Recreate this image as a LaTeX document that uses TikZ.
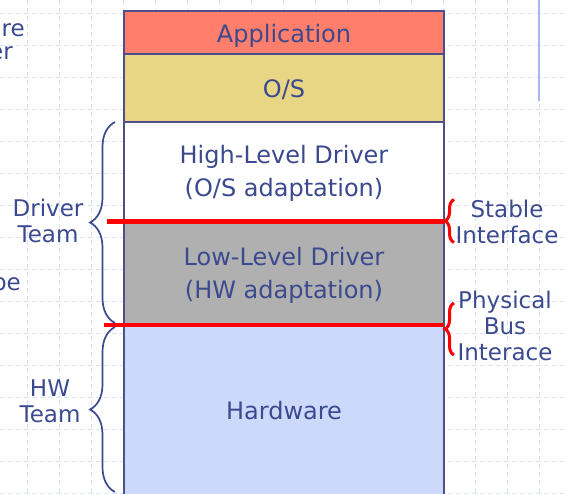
\documentclass[tikz,border=0pt]{standalone}
\usepackage{fontspec}
\setmainfont{DejaVu Sans}
\usepackage{tikz}
\usetikzlibrary{positioning,decorations.pathreplacing}

\definecolor{ink}{HTML}{3B4A8E}
\definecolor{edge}{HTML}{4E4E8E}
\definecolor{appfill}{HTML}{FF7E6C}
\definecolor{osfill}{HTML}{E9D685}
\definecolor{lowfill}{HTML}{B0B0B0}
\definecolor{hwfill}{HTML}{CDD9FA}
\definecolor{gridc}{HTML}{DCE3F6}
\definecolor{markc}{HTML}{A9B5F2}

% lower a label without changing its box
\newcommand{\dropby}[2]{\raisebox{-#1}[\height][\depth]{#2}}

\begin{document}
\begin{tikzpicture}[x=1pt, y=-1pt,
    layer/.style={draw=edge, line width=1.3pt, minimum width=320pt, inner sep=0pt,
      outer sep=0pt, text=ink, align=center, font=\fontsize{24}{33}\selectfont},
    side/.style={text=ink, align=center, inner sep=0pt, font=\fontsize{23}{26}\selectfont},
    team/.style={draw=ink, line width=1.7pt, decorate,
      decoration={brace, amplitude=25pt, aspect=0.5}},
    iface/.style={draw=red, line width=4pt},
    ibrace/.style={draw=red, line width=3pt, decorate,
      decoration={brace, amplitude=9pt, aspect=0.5}},
    gridline/.style={draw=gridc, line width=0.8pt, dash pattern=on 5pt off 3pt}]

    \useasboundingbox (0,0) rectangle (564,494);
    \clip (0,0) rectangle (564,494);

    % background grid
    \foreach \gx in {27,59,...,539}
      \draw[gridline] (\gx,0) -- (\gx,494);
    \foreach \gy in {13,45,...,493}
      \draw[gridline] (0,\gy) -- (564,\gy);
    \draw[markc, line width=2.5pt] (539,0) -- (539,101);

    % cut-off words at the left edge
    \node[side, anchor=east] (w1) at (25,30) {re};
    \node[side, anchor=east] (w2) at (13,53) {er};
    \node[side, anchor=east] (w3) at (21,286) {pe};

    % the layer stack
    \node[layer, fill=appfill, minimum height=43pt, anchor=north west] (app) at (124,11) {\dropby{3pt}{Application}};
    \node[layer, fill=osfill, minimum height=68pt, below=0pt of app] (os) {\dropby{1.5pt}{O/S}};
    \node[layer, fill=white, minimum height=99.5pt, below=0pt of os] (hld) {\dropby{2pt}{High-Level Driver}\\\dropby{2pt}{(O/S adaptation)}};
    \node[layer, fill=lowfill, minimum height=103.5pt, below=0pt of hld] (lld) {\dropby{2.5pt}{Low-Level Driver}\\\dropby{2.5pt}{(HW adaptation)}};
    \node[layer, fill=hwfill, minimum height=172pt, below=0pt of lld] (hw) {Hardware};

    % interfaces
    \draw[iface] ([xshift=-17pt]lld.north west) -- (lld.north east);
    \draw[iface] ([xshift=-20pt]hw.north west) -- (hw.north east);

    % teams
    \draw[team] ([xshift=-9pt, yshift=2pt]lld.south west) -- ([xshift=-9pt]hld.north west);
    \draw[team] ([xshift=-9pt, yshift=5pt]hw.south west) -- ([xshift=-9pt, yshift=-2pt]hw.north west);
    \node[side] (drv) at (48,221) {Driver\\Team};
    \node[side] (hwt) at (50,401) {HW\\Team};

    % interface labels
    \coordinate (s1) at ([xshift=10pt, yshift=22pt]lld.north east);
    \coordinate (s2) at ([xshift=10pt, yshift=-21pt]lld.north east);
    \coordinate (p1) at ([xshift=10pt, yshift=22pt]hw.north east);
    \coordinate (p2) at ([xshift=10pt, yshift=-30pt]hw.north east);
    \draw[ibrace] (s2) -- (s1);
    \draw[ibrace] (p2) -- (p1);
    \node[side] (stab) at (507,222) {Stable\\Interface};
    \node[side] (phys) at (505,326) {Physical\\Bus\\Interace};
\end{tikzpicture}
\end{document}
